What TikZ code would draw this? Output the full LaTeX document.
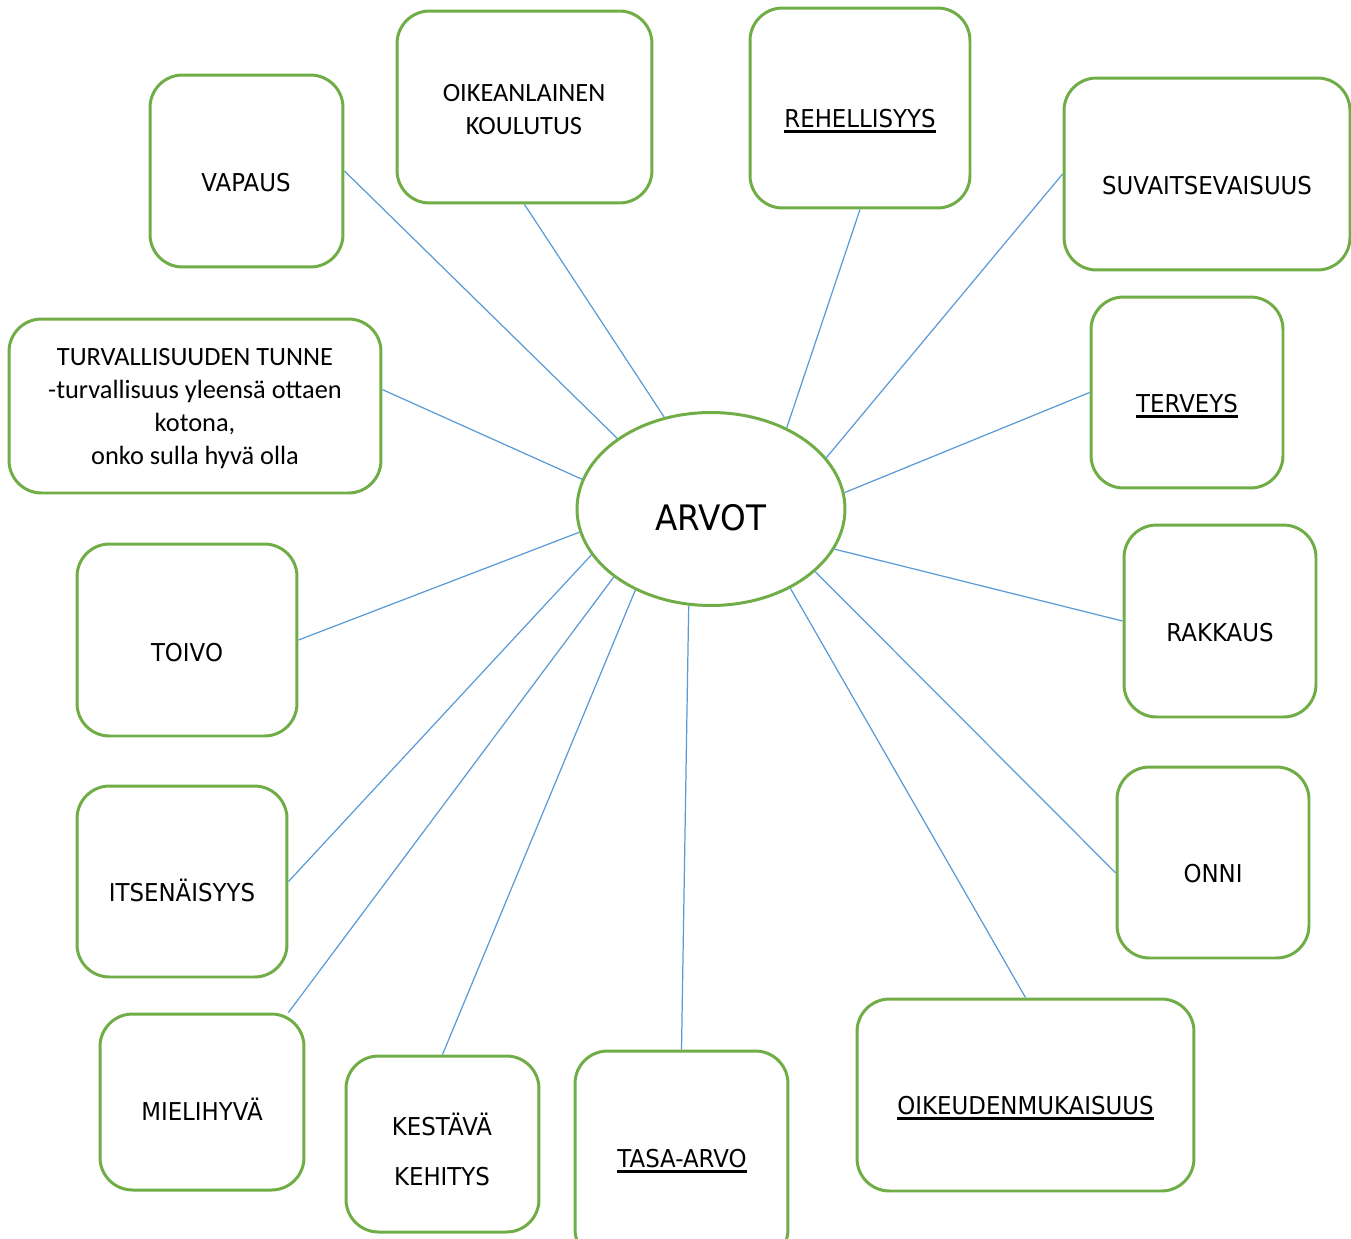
\documentclass[tikz,border=0pt]{standalone}
\usepackage{fontspec}
\setmainfont{Carlito}
\newfontfamily\capsfont{DejaVu Sans}[FakeStretch=0.93]
\usepackage{tikz}
\usetikzlibrary{shapes.geometric}
\definecolor{boxgreen}{HTML}{70AD47}
\definecolor{linkblue}{HTML}{5B9BD5}
\newcommand{\viiva}[1]{\setbox0\hbox{#1}\rlap{\rule[-3.4pt]{\wd0}{1.5pt}}\box0}
\tikzset{
	box/.style = {draw=boxgreen, line width=1.7pt, rounded corners=0.65cm, inner sep=0pt},
	word/.style = {font=\capsfont\fontsize{14}{28.5}\selectfont, inner sep=0pt, anchor=base},
	note/.style = {font=\fontsize{15}{18.8}\selectfont, inner sep=0pt, align=center, anchor=north},
	link/.style = {draw=linkblue, line width=0.7pt}
}

\begin{document}
\begin{tikzpicture}[x=0.02cm, y=-0.02cm]
		\useasboundingbox (0,0) rectangle (1351,1238);
		\clip (0,0) rectangle (1351,1238);
		% center
		\node[ellipse, draw=boxgreen, line width=1.7pt, minimum width=5.36cm, minimum height=3.86cm, inner sep=0pt] (arvot) at (711,509) {};
		\node[word, font=\capsfont\fontsize{20}{24}\selectfont] (arvot-t) at (711,530) {ARVOT};
		% top row
		\node[box, minimum width=3.86cm, minimum height=3.84cm] (vapaus) at (246.5,171) {};
		\node[word] (vapaus-t) at (246,191) {VAPAUS};
		\node[box, minimum width=5.10cm, minimum height=3.84cm] (koulutus) at (524.5,107) {};
		\node[note] (koulutus-t) at (524,84) {OIKEANLAINEN\\KOULUTUS};
		\node[box, minimum width=4.40cm, minimum height=4.00cm] (rehell) at (860,108) {};
		\node[word] (rehell-t) at (860,127) {\viiva{REHELLISYYS}};
		\node[box, minimum width=5.72cm, minimum height=3.84cm] (suvait) at (1207,174) {};
		\node[word] (suvait-t) at (1207,194) {SUVAITSEVAISUUS};
		% left side
		\node[box, minimum width=7.44cm, minimum height=3.48cm] (turva) at (195,406) {};
		\node[note] (turva-t) at (195,348) {TURVALLISUUDEN TUNNE\\-turvallisuus yleensä ottaen\\kotona,\\onko sulla hyvä olla};
		\node[box, minimum width=4.40cm, minimum height=3.84cm] (toivo) at (187,640) {};
		\node[word] (toivo-t) at (187,661) {TOIVO};
		\node[box, minimum width=4.20cm, minimum height=3.82cm] (itsen) at (182,881.5) {};
		\node[word] (itsen-t) at (182,901) {ITSENÄISYYS};
		% right side
		\node[box, minimum width=3.84cm, minimum height=3.82cm] (terveys) at (1187,392.5) {};
		\node[word] (terveys-t) at (1187,412) {\viiva{TERVEYS}};
		\node[box, minimum width=3.84cm, minimum height=3.84cm] (rakkaus) at (1220,621) {};
		\node[word] (rakkaus-t) at (1220,641) {RAKKAUS};
		\node[box, minimum width=3.84cm, minimum height=3.82cm] (onni) at (1213,862.5) {};
		\node[word] (onni-t) at (1213,882) {ONNI};
		% bottom row
		\node[box, minimum width=4.08cm, minimum height=3.52cm] (mieli) at (202,1102) {};
		\node[word] (mieli-t) at (202,1120) {MIELIHYVÄ};
		\node[box, minimum width=3.86cm, minimum height=3.52cm] (kestava) at (442.5,1144) {};
		\node[word, align=center, anchor=north] (kestava-t) at (442,1113) {KESTÄVÄ\\KEHITYS};
		\node[box, minimum width=4.26cm, minimum height=4.22cm] (tasa) at (681.5,1156.5) {};
		\node[word] (tasa-t) at (682,1167) {\viiva{TASA-ARVO}};
		\node[box, minimum width=6.74cm, minimum height=3.84cm] (oikeus) at (1025.5,1095) {};
		\node[word] (oikeus-t) at (1025.5,1114) {\viiva{OIKEUDENMUKAISUUS}};
		% links
		\draw[link] (vapaus.east) -- (arvot.143.7);
		\draw[link] (koulutus.south) -- (arvot.117.3);
		\draw[link] (rehell.south) -- (arvot.47.3);
		\draw[link] (suvait.west) -- (arvot.24.7);
		\draw[link] (turva.5) -- (arvot.167.7);
		\draw[link] (terveys.west) -- (arvot.7.1);
		\draw[link] (toivo.east) -- (arvot.190.9);
		\draw[link] (rakkaus.west) -- (arvot.-18.2);
		\draw[link] (itsen.east) -- (arvot.201.2);
		\draw[link] (onni.186) -- (arvot.-31.2);
		\draw[link] (mieli.46) -- (arvot.215.6);
		\draw[link] (kestava.north) -- (arvot.227.6);
		\draw[link] (tasa.north) -- (arvot.257.5);
		\draw[link] (oikeus.north) -- (arvot.315.7);
	\end{tikzpicture}
\end{document}
